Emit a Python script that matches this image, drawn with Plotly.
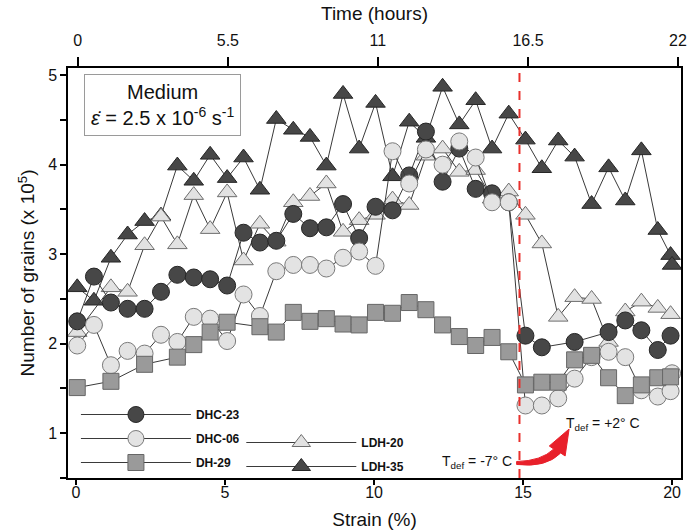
import plotly.graph_objects as go

strain = [0.04, 0.6, 1.17, 1.73, 2.3, 2.85, 3.4, 3.95, 4.5, 5.07, 5.62, 6.17, 6.72, 7.29,
          7.85, 8.4, 8.96, 9.5, 10.05, 10.62, 11.18, 11.74, 12.3, 12.86, 13.41, 13.96,
          14.52, 15.08, 15.63, 16.18, 16.73, 17.3, 17.87, 18.43, 18.97, 19.52, 19.95, 20.0]

dhc23 = [2.25, 2.75, 2.46, 2.39, 2.39, 2.58, 2.77, 2.74, 2.72, 2.65, 3.24, 3.13, 3.15, 3.45,
         3.29, 3.30, 3.56, 3.18, 3.53, 3.49, 3.88, 4.37, 3.81, 4.18, 3.73, 3.68,
         3.58, 2.09, 1.96, None, 2.02, None, 2.13, 2.26, 2.15, 1.93, 2.09, None]

dhc06 = [1.98, 2.21, 1.76, 1.92, 1.89, 2.10, 2.02, 2.30, 2.28, 2.03, 2.55, 2.31, 2.81, 2.88,
         2.88, 2.84, 2.96, 3.03, 2.87, 4.15, 3.79, 4.17, 4.00, 4.26, 4.08, 3.58,
         3.58, 1.31, 1.31, 1.39, 1.61, 1.85, 1.91, 1.85, 1.48, 1.41, 1.47, 1.67]

dh29 = [1.51, None, 1.58, None, 1.77, None, 1.85, 1.99, 2.13, 2.24, None, 2.19, 2.13, 2.35,
        2.25, 2.28, 2.22, 2.21, 2.35, 2.34, 2.46, 2.38, 2.21, 2.08, 1.98, 2.07,
        1.91, 1.54, 1.57, 1.57, 1.82, 1.87, 1.62, 1.42, 1.54, 1.62, 1.63, None]

ldh20 = [2.13, None, 2.63, 2.58, 3.10, 3.42, 3.11, 3.66, 3.28, 3.69, 2.93, 3.34, 3.14, 3.58,
         3.65, 3.79, 3.25, 3.38, 3.44, 3.61, 3.55, 4.10, 4.18, 3.92, 3.94, 3.62,
         3.70, 3.44, 3.12, 2.30, 2.52, 2.50, 2.02, 2.36, 2.47, 2.40, 2.33, None]

ldh35 = [2.63, 2.48, 2.96, 3.22, 3.37, 3.43, 3.99, 3.82, 4.11, 3.85, 4.08, 3.72, 4.51, 4.39,
         4.31, 3.99, 4.79, 4.18, 4.69, 3.87, 4.48, 4.30, 4.87, 4.45, 4.72, 4.18,
         4.57, 4.28, 3.96, 4.27, 4.09, 3.56, 3.97, 3.60, 4.16, 3.27, 2.99, 2.88]

hours_ticks = [0, 5.5, 11, 16.5, 22]
hours_labels = ["0", "5.5", "11", "16.5", "22"]
strain_ticks = [0, 5, 10, 15, 20]
y_ticks = [1, 2, 3, 4, 5]
t_change = 14.88

W, H = 691, 531
ML, MR, MT, MB = 68, 4, 68, 53
PW, PH = W - ML - MR, H - MT - MB


def px(X):
    return (X - ML) / PW


def py(Y):
    return (H - MB - Y) / PH


FONT = "Liberation Sans, Arial, sans-serif"
LINE = dict(color="#3a3a3a", width=1)

series = [
    ("LDH-35", ldh35, "triangle-up", "#474747", "#262626", 17, "legend2", 2),
    ("LDH-20", ldh20, "triangle-up", "#e2e2e2", "#6e6e6e", 17, "legend2", 1),
    ("DHC-23", dhc23, "circle", "#474747", "#262626", 17, "legend", 1),
    ("DHC-06", dhc06, "circle", "#e3e3e3", "#7a7a7a", 17, "legend", 2),
    ("DH-29", dh29, "square", "#9a9a9a", "#666666", 16, "legend", 3),
]

fig = go.Figure()
for name, ys, sym, fill, edge, size, leg, rank in series:
    fig.add_trace(go.Scatter(
        x=strain, y=ys, name=name, mode="lines+markers", connectgaps=True,
        line=LINE,
        marker=dict(symbol=sym, size=size, color=fill, line=dict(color=edge, width=1)),
        legend=leg, legendrank=rank, legendgroup=name,
    ))

# invisible trace to carry the top (time) axis
fig.add_trace(go.Scatter(x=hours_ticks, y=[None] * len(hours_ticks), xaxis="x2",
                         showlegend=False, hoverinfo="skip", mode="markers"))

axis_common = dict(showline=True, linecolor="black", linewidth=1.5, ticks="outside",
                   tickwidth=1.5, tickcolor="black", showgrid=False,
                   zeroline=False, tickfont=dict(size=16, color="#111", family=FONT))

fig.update_layout(
    width=W, height=H,
    margin=dict(l=ML, r=MR, t=MT, b=MB),
    paper_bgcolor="white", plot_bgcolor="white",
    font=dict(family=FONT, color="#111"),
    xaxis=dict(range=[-0.27, 20.3], tickvals=strain_ticks, mirror=False, ticklen=5,
               ticklabelstandoff=-6,
               title=dict(text="Strain (%)", font=dict(size=19), standoff=13),
               **axis_common),
    xaxis2=dict(range=[-0.36, 22.11], overlaying="x", side="top", anchor="y",
                tickvals=hours_ticks, ticktext=hours_labels, ticklen=9,
                ticklabelstandoff=5,
                title=dict(text="Time (hours)", font=dict(size=19), standoff=6),
                **axis_common),
    yaxis=dict(range=[0.5, 5.08], tickvals=y_ticks, mirror=True, ticklen=6,
               minor=dict(dtick=0.5, ticks="outside", ticklen=6, tickwidth=1.5,
                          tickcolor="black"),
               title=dict(text="Number of grains (x 10<sup>5</sup>)", font=dict(size=19),
                          standoff=8),
               **axis_common),
    legend=dict(x=px(76), y=py(400), xanchor="left", yanchor="top",
                bgcolor="rgba(0,0,0,0)", itemwidth=110, tracegroupgap=5,
                font=dict(size=12, family=FONT, color="#111", weight="bold")),
    legend2=dict(x=px(243), y=py(428), xanchor="left", yanchor="top",
                 bgcolor="rgba(0,0,0,0)", itemwidth=110, tracegroupgap=5,
                 font=dict(size=12, family=FONT, color="#111", weight="bold")),
    showlegend=True,
)

# red dashed line at temperature change
fig.add_shape(type="line", xref="x", yref="paper", x0=t_change, x1=t_change, y0=0, y1=1,
              line=dict(color="#e8302c", width=2, dash="dash"))


def P(X, Y):
    return f"{px(X):.5f},{py(Y):.5f}"


# curved red arrow
arrow_path = ("M " + P(521, 461.5) + " Q " + P(546, 461) + " " + P(558.5, 449) +
              " L " + P(554, 446) + " L " + P(574, 429) + " L " + P(570, 456) +
              " L " + P(565.5, 453) + " Q " + P(551, 468) + " " + P(521, 464.5) + " Z")
fig.add_shape(type="path", xref="paper", yref="paper", path=arrow_path,
              fillcolor="#e8202a", line=dict(color="#e8202a", width=1))

fig.add_annotation(xref="paper", yref="paper", x=px(518), y=py(462), xanchor="right",
                   yanchor="middle", showarrow=False,
                   text="T<sub>def</sub> = -7° C", font=dict(size=14, color="#111"))
fig.add_annotation(xref="paper", yref="paper", x=px(569), y=py(424), xanchor="left",
                   yanchor="middle", showarrow=False,
                   text="T<sub>def</sub> = +2° C", font=dict(size=14, color="#111"))

# condition box
fig.add_annotation(xref="paper", yref="paper", x=px(163), y=py(105), xanchor="center",
                   yanchor="middle", showarrow=False,
                   text="Medium<br><i>\u03b5\u0307</i> = 2.5 x 10<sup>-6</sup> s<sup>-1</sup>",
                   font=dict(size=20, color="#111"), bgcolor="white",
                   bordercolor="#9a9a9a", borderwidth=1, borderpad=6)

fig.write_html("out.html", config={"displayModeBar": False},
               post_script="document.body.style.margin='0';")
